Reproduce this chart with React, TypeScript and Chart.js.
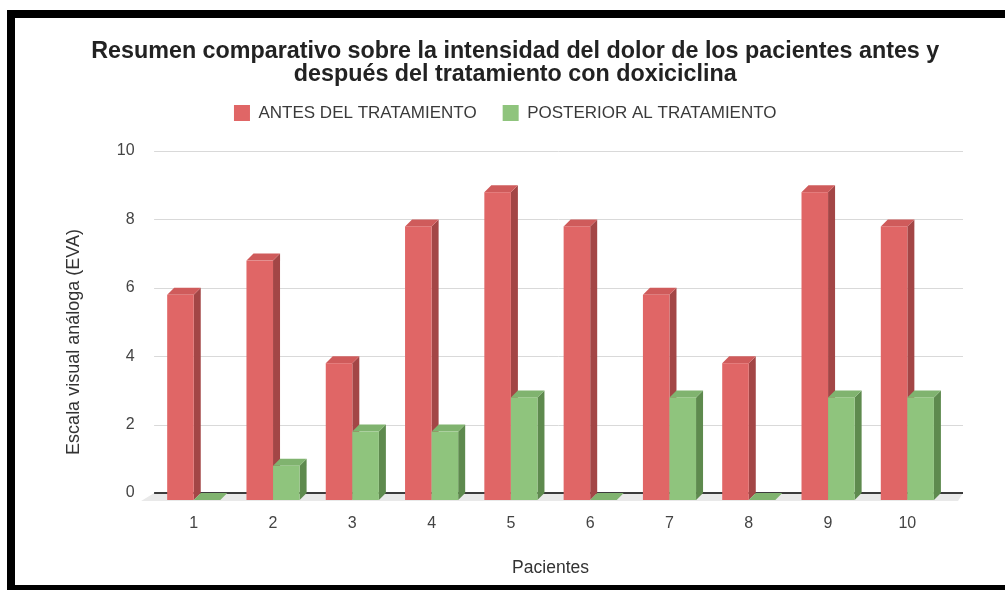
import React, { useEffect, useRef } from 'react';
import { Chart, registerables } from 'chart.js';

Chart.register(...registerables);

const TITLE_LINES = [
  'Resumen comparativo sobre la intensidad del dolor de los pacientes antes y',
  'después del tratamiento con doxiciclina',
];
const CATEGORIES = ['1', '2', '3', '4', '5', '6', '7', '8', '9', '10'];
const SERIES_NAMES = ['ANTES DEL TRATAMIENTO', 'POSTERIOR AL TRATAMIENTO'];
const ANTES = [6, 7, 4, 8, 9, 8, 6, 4, 9, 8];
const POSTERIOR = [0, 1, 2, 2, 3, 0, 3, 0, 3, 3];
const Y_TICKS = [0, 2, 4, 6, 8, 10];
const X_TITLE = 'Pacientes';
const Y_TITLE = 'Escala visual análoga (EVA)';

const FONT = "'Liberation Sans', Arial, sans-serif";
const FRONT = ['#e06666', '#8fc47d'];
const TOP = ['#cf5b5b', '#80b36f'];
const SIDE = ['#a34646', '#5e8a4e'];
const DEPTH = 7;
const EXT = 16;
const LEGEND_H = 72.5;
const Y_TITLE_SIZE = 18;

const legendHeight = {
  id: 'legendHeight',
  beforeInit(chart: any) {
    const lg = chart.legend;
    if (!lg) return;
    const orig = lg.fit;
    lg.fit = function () {
      orig.call(this);
      this.height = LEGEND_H;
    };
  },
  afterLayout(chart: any) {
    if (chart.titleBlock) {
      chart.titleBlock.left += 20;
    }
  },
};

// y-axis title drawn slightly below the plot's vertical centre, as in the source
const yTitle = {
  id: 'yTitle',
  afterDraw(chart: any) {
    const { ctx, chartArea } = chart;
    const ys = chart.scales.y;
    const x = ys.left + (Y_TITLE_SIZE * 1.2) / 2;
    const cy = (chartArea.top + chartArea.bottom) / 2 + 20;
    ctx.save();
    ctx.translate(x, cy);
    ctx.rotate(-Math.PI / 2);
    ctx.fillStyle = '#333';
    ctx.font = `${Y_TITLE_SIZE}px ${FONT}`;
    ctx.textAlign = 'center';
    ctx.textBaseline = 'middle';
    ctx.fillText(Y_TITLE, 0, 0);
    ctx.restore();
  },
};

const bars3d = {
  id: 'bars3d',
  beforeDatasetsDraw(chart: any) {
    const { ctx, chartArea } = chart;
    const { left, right } = chartArea;
    const y = chart.scales.y;
    ctx.save();
    ctx.strokeStyle = '#d9d9d9';
    ctx.lineWidth = 1;
    y.ticks.forEach((t: any) => {
      if (t.value === 0) return;
      const py = Math.round(y.getPixelForValue(t.value)) + 0.5;
      ctx.beginPath();
      ctx.moveTo(left, py);
      ctx.lineTo(right + EXT, py);
      ctx.stroke();
    });
    const z = y.getPixelForValue(0);
    ctx.fillStyle = '#e9e9e9';
    ctx.beginPath();
    ctx.moveTo(left, z);
    ctx.lineTo(right + EXT, z);
    ctx.lineTo(right + EXT - 5, z + DEPTH + 1);
    ctx.lineTo(left - 13, z + DEPTH + 1);
    ctx.closePath();
    ctx.fill();
    ctx.strokeStyle = '#3c3c3c';
    ctx.lineWidth = 2;
    ctx.beginPath();
    ctx.moveTo(left, z);
    ctx.lineTo(right + EXT, z);
    ctx.stroke();
    chart.data.datasets.forEach((_ds: any, i: number) => {
      const meta = chart.getDatasetMeta(i);
      meta.data.forEach((el: any) => {
        const p = el.getProps(['x', 'y', 'base', 'width'], true);
        const l = p.x - p.width / 2;
        const r = p.x + p.width / 2;
        const t = p.y + DEPTH;
        const b = p.base + DEPTH;
        ctx.fillStyle = SIDE[i];
        ctx.beginPath();
        ctx.moveTo(r, t);
        ctx.lineTo(r + DEPTH, t - DEPTH);
        ctx.lineTo(r + DEPTH, b - DEPTH);
        ctx.lineTo(r, b);
        ctx.closePath();
        ctx.fill();
        ctx.fillStyle = TOP[i];
        ctx.beginPath();
        ctx.moveTo(l, t);
        ctx.lineTo(l + DEPTH, t - DEPTH);
        ctx.lineTo(r + DEPTH, t - DEPTH);
        ctx.lineTo(r, t);
        ctx.closePath();
        ctx.fill();
        ctx.fillStyle = FRONT[i];
        ctx.fillRect(l, t, r - l, b - t);
      });
    });
    ctx.restore();
    return false;
  },
};

export default function App() {
  const ref = useRef<HTMLCanvasElement>(null);
  useEffect(() => {
    if (!ref.current) return;
    const chart = new Chart(ref.current, {
      type: 'bar',
      data: {
        labels: CATEGORIES,
        datasets: [
          { label: SERIES_NAMES[0], data: ANTES, backgroundColor: FRONT[0], borderWidth: 0 },
          { label: SERIES_NAMES[1], data: POSTERIOR, backgroundColor: FRONT[1], borderWidth: 0 },
        ],
      },
      options: {
        animation: false,
        responsive: false,
        events: [],
        datasets: { bar: { categoryPercentage: 0.67, barPercentage: 1.0 } },
        layout: { padding: { left: 48.5, right: 58, top: 0, bottom: 2.5 } },
        plugins: {
          tooltip: { enabled: false },
          title: {
            display: true,
            text: TITLE_LINES,
            color: '#222',
            font: { family: FONT, size: 23.3, weight: 'bold', lineHeight: 1.0 },
            padding: { top: 22, bottom: -8.1 },
          },
          legend: {
            display: true,
            position: 'top',
            labels: {
              color: '#3a3a3a',
              font: { family: FONT, size: 17 },
              boxWidth: 16,
              boxHeight: 16,
              padding: 26,
            },
          },
        },
        scales: {
          x: {
            type: 'category',
            offset: true,
            grid: { display: false, drawTicks: false },
            border: { display: false },
            ticks: { color: '#444', font: { family: FONT, size: 16 }, padding: 20.9 },
            title: {
              display: true,
              text: X_TITLE,
              color: '#333',
              font: { family: FONT, size: 17.5 },
              padding: { top: 3.5, bottom: 4 },
            },
          },
          y: {
            min: 0,
            max: 10,
            afterBuildTicks: (axis: any) => {
              axis.ticks = Y_TICKS.map((v) => ({ value: v }));
            },
            grid: { display: false, drawTicks: false },
            border: { display: false },
            ticks: { color: '#444', font: { family: FONT, size: 16 }, padding: 19.5 },
            title: {
              display: true,
              text: Y_TITLE,
              color: 'rgba(0,0,0,0)',
              font: { family: FONT, size: Y_TITLE_SIZE },
              padding: { top: 0, bottom: 12.2 },
            },
          },
        },
      },
      plugins: [legendHeight, yTitle, bars3d],
    } as any);
    return () => chart.destroy();
  }, []);

  return (
    <div style={{ position: 'fixed', left: 0, top: 0, width: 1005, height: 590, background: '#fff', overflow: 'hidden' }}>
      <div
        style={{
          position: 'absolute',
          left: 7,
          top: 10,
          width: 998,
          height: 580,
          boxSizing: 'border-box',
          borderLeft: '8px solid #000',
          borderTop: '8px solid #000',
          borderBottom: '5px solid #000',
          background: '#fff',
        }}
      >
        <canvas ref={ref} width={990} height={567} style={{ display: 'block', width: 990, height: 567 }} />
      </div>
    </div>
  );
}
